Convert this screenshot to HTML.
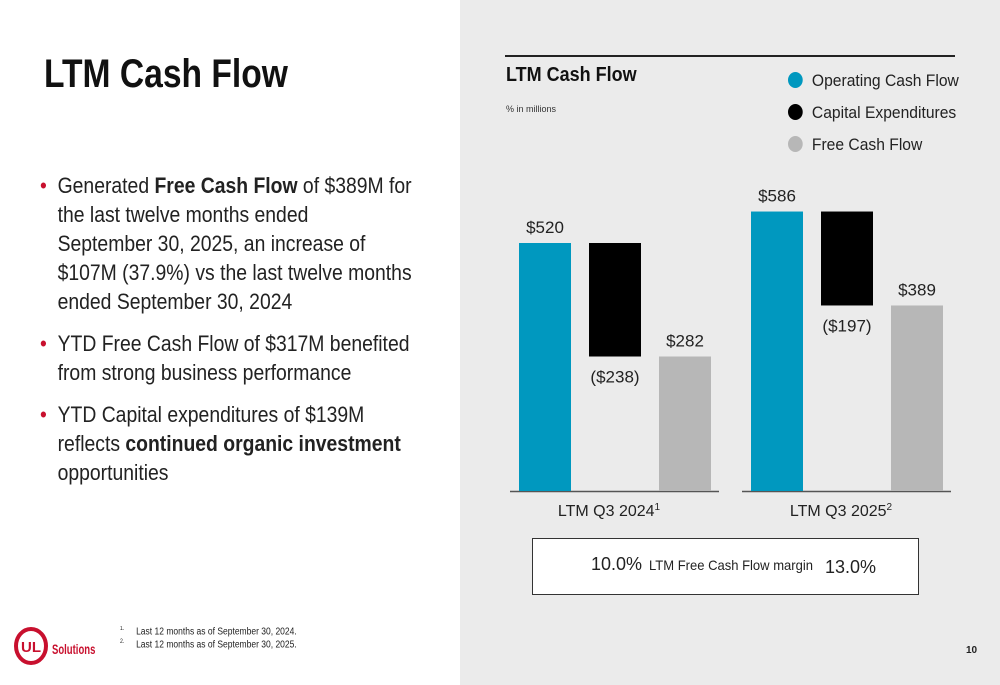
<!DOCTYPE html>
<html><head><meta charset="utf-8"><style>
body{margin:0;width:1000px;height:685px;position:relative;overflow:hidden;font-family:"Liberation Sans",sans-serif;background:#fff}
.a{position:absolute}
.bl{position:relative;padding-left:20px;white-space:nowrap}
.bl span.d{position:absolute;left:0;color:#c8102e}
</style></head><body>
<div class="a" style="left:460px;top:0;width:540px;height:685px;background:#ebebeb"></div>
<div class="a" style="left:44px;top:52px;font-size:40px;font-weight:bold;color:#111;transform:scaleX(0.84);transform-origin:left">LTM Cash Flow</div>
<div class="a" style="left:40px;top:171px;font-size:22px;line-height:29px;color:#222;transform:scaleX(0.88);transform-origin:left">
<div class="bl"><span class="d">•</span>Generated <b>Free Cash Flow</b> of $389M for<br>the last twelve months ended<br>September 30, 2025, an increase of<br>$107M (37.9%) vs the last twelve months<br>ended September 30, 2024</div>
<div class="bl" style="margin-top:13px"><span class="d">•</span>YTD Free Cash Flow of $317M benefited<br>from strong business performance</div>
<div class="bl" style="margin-top:13px"><span class="d">•</span>YTD Capital expenditures of $139M<br>reflects <b>continued organic investment</b><br>opportunities</div>
</div>
<svg class="a" style="left:14px;top:626px" width="34" height="40"><ellipse cx="17" cy="20" rx="15" ry="17" fill="none" stroke="#c8102e" stroke-width="4"/><text x="17" y="26" font-size="15" font-weight="bold" text-anchor="middle" fill="#c8102e" font-family="Liberation Sans">UL</text></svg>
<div class="a" style="left:52px;top:641px;font-size:14px;font-weight:bold;color:#c8102e;transform:scaleX(0.68);transform-origin:left">Solutions</div>
<div class="a" style="left:120px;top:624px;font-size:10px;line-height:11px;color:#222;transform:scaleX(0.85);transform-origin:left"><div><sup style="font-size:6px">1.</sup>&nbsp;&nbsp;&nbsp;&nbsp;&nbsp;Last 12 months as of September 30, 2024.</div><div><sup style="font-size:6px">2.</sup>&nbsp;&nbsp;&nbsp;&nbsp;&nbsp;Last 12 months as of September 30, 2025.</div></div>
<div class="a" style="left:966px;top:645px;font-size:10px;font-weight:bold;color:#222">10</div>
<div class="a" style="left:505px;top:55px;width:450px;height:2px;background:#222"></div>
<div class="a" style="left:506px;top:64px;font-size:20px;font-weight:bold;color:#111;transform:scaleX(0.9);transform-origin:left">LTM Cash Flow</div>
<div class="a" style="left:506px;top:104px;font-size:9px;color:#333">% in millions</div>
<div class="a" style="left:788px;top:65px;font-size:17px;color:#222;line-height:32px;transform:scaleX(0.92);transform-origin:left">
<div><span style="display:inline-block;width:16px;height:16px;border-radius:50%;background:#0098bf;vertical-align:-2px;margin-right:10px"></span>Operating Cash Flow</div>
<div><span style="display:inline-block;width:16px;height:16px;border-radius:50%;background:#000;vertical-align:-2px;margin-right:10px"></span>Capital Expenditures</div>
<div><span style="display:inline-block;width:16px;height:16px;border-radius:50%;background:#b7b7b7;vertical-align:-2px;margin-right:10px"></span>Free Cash Flow</div>
</div>
<svg id="chart" class="a" style="left:0;top:0" width="1000" height="685"></svg>
<div class="a" style="left:532px;top:538px;width:385px;height:55px;background:#fff;border:1px solid #333"></div>
<div class="a" style="left:591px;top:554px;font-size:18px;color:#222">10.0%</div>
<div class="a" style="left:649px;top:557px;font-size:14px;color:#222;transform:scaleX(0.93);transform-origin:left">LTM Free Cash Flow margin</div>
<div class="a" style="left:825px;top:557px;font-size:18px;color:#222">13.0%</div>
<script>
const categories=["LTM Q3 2024","LTM Q3 2025"];
const sups=["1","2"];
const ocf=[520,586];
const capex=[-238,-197];
const fcf=[282,389];
const svg=document.getElementById('chart');
const NS='http://www.w3.org/2000/svg';
const base=491, k=248/520;
const y=v=>base-v*k;
const groupX=i=>519+i*232;
function add(tag,attrs,txt){const e=document.createElementNS(NS,tag);for(const a in attrs)e.setAttribute(a,attrs[a]);if(txt!=null)e.textContent=txt;svg.appendChild(e);return e;}
function fmt(v){return v<0?'($'+(-v)+')':'$'+v;}
categories.forEach((c,i)=>{
 const gx=groupX(i);
 const ax=add('line',{x1:gx-9,x2:gx+200,y1:base+0.5,y2:base+0.5,stroke:'#555','stroke-width':1.5});
 
 
 const b1=add('rect',{x:gx,y:y(ocf[i]),width:52,height:base-y(ocf[i]),fill:'#0098bf'});
 
 
 const top=ocf[i], bot=ocf[i]+capex[i];
 const b2=add('rect',{x:gx+70,y:y(top),width:52,height:y(bot)-y(top),fill:'#000'});
 
 
 const b3=add('rect',{x:gx+140,y:y(fcf[i]),width:52,height:base-y(fcf[i]),fill:'#b7b7b7'});
 
 
 const st={'font-size':17,'text-anchor':'middle',fill:'#222','font-family':'Liberation Sans'};
 const l1=add('text',Object.assign({x:gx+26,y:y(ocf[i])-10},st),fmt(ocf[i]));
 
 
 const l2=add('text',Object.assign({x:gx+96,y:y(bot)+26},st),fmt(capex[i]));
 
 
 const l3=add('text',Object.assign({x:gx+166,y:y(fcf[i])-10},st),fmt(fcf[i]));
 
 
 const cl=add('text',Object.assign({},st,{x:gx+90,y:base+25,'font-size':16}));
 
 
 cl.textContent=c;
 const s=document.createElementNS(NS,'tspan');s.setAttribute('dy','-6');s.setAttribute('font-size','10');s.textContent=sups[i];cl.appendChild(s);
});
</script>
</body></html>
